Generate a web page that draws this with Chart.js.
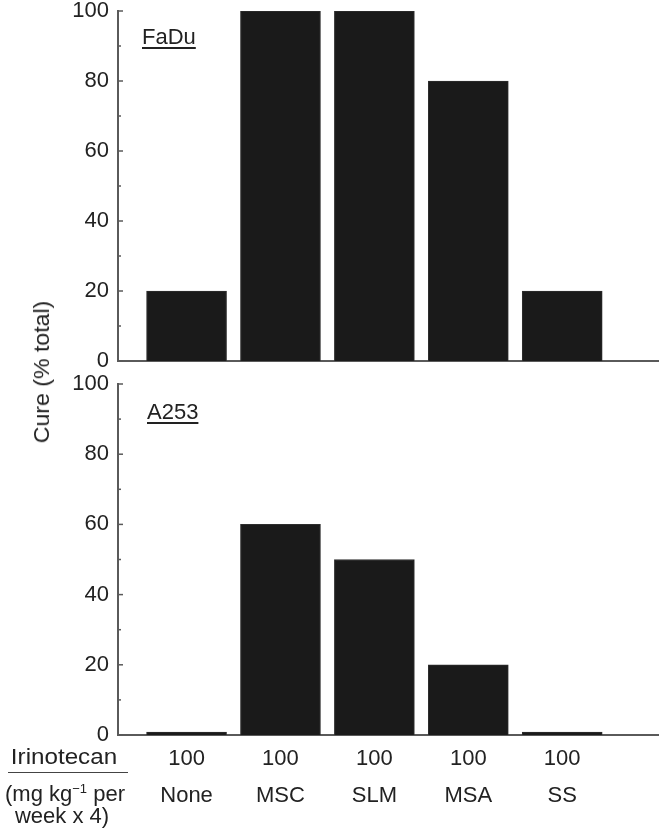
<!DOCTYPE html>
<html>
<head>
<meta charset="utf-8">
<script src="https://cdn.jsdelivr.net/npm/chart.js@4/dist/chart.umd.min.js"></script>
<style>
  html, body { margin: 0; padding: 0; background: #fff; }
  body { width: 660px; height: 835px; position: relative; overflow: hidden;
         font-family: "Liberation Sans", Arial, sans-serif; color: #222; }
  canvas { position: absolute; left: 0; }
  .t { position: absolute; font-size: 22px; line-height: 22px; white-space: nowrap; color: #222; }
  .u { text-decoration: underline; text-underline-offset: 3px; text-decoration-thickness: 1.5px; }
  sup { font-size: 13px; line-height: 0; vertical-align: 0; position: relative; top: -8px; }
</style>
</head>
<body>
<canvas id="c1" width="660" height="375" style="top:0"></canvas>
<canvas id="c2" width="660" height="463" style="top:372px"></canvas>

<div class="t u" style="left:142px; top:26px;">FaDu</div>
<div class="t u" style="left:147px; top:401px;">A253</div>
<div class="t" style="left:42px; top:372px; transform: translate(-50%,-50%) rotate(-90deg) scaleX(1.05);">Cure (% total)</div>

<div class="t" style="left:0; width:128px; text-align:center; top:746px; transform: scaleX(1.1);">Irinotecan</div>
<div style="position:absolute; left:8px; width:120px; top:772px; height:0; border-top:1.5px solid #444;"></div>
<div class="t" style="left:0; width:130px; text-align:center; top:783px;">(mg kg<sup>&minus;1</sup> per</div>
<div class="t" style="left:0; width:124px; text-align:center; top:805px;">week x 4)</div>

<script>
const categories = ['None', 'MSC', 'SLM', 'MSA', 'SS'];
const irinotecanDose = ['100', '100', '100', '100', '100'];
const faduCure = [20, 100, 100, 80, 20];
const a253Cure = [0, 60, 50, 20, 0];
const yTickValues = [0, 10, 20, 30, 40, 50, 60, 70, 80, 90, 100];

Chart.defaults.font.family = '"Liberation Sans", Arial, sans-serif';
Chart.defaults.color = '#222';

const AXIS = '#5a5a5a';

const inwardTicks = {
  id: 'inwardTicks',
  afterDraw(chart) {
    const s = chart.scales.y;
    const ctx = chart.ctx;
    ctx.save();
    ctx.strokeStyle = AXIS;
    ctx.lineWidth = 1.5;
    yTickValues.forEach(v => {
      const y = s.getPixelForValue(v);
      const len = v % 20 === 0 ? 5 : 3;
      ctx.beginPath();
      ctx.moveTo(chart.chartArea.left, y);
      ctx.lineTo(chart.chartArea.left + len, y);
      ctx.stroke();
    });
    ctx.restore();
  }
};

function makeChart(id, values, showX, padTop, xHeight) {
  return new Chart(document.getElementById(id), {
    type: 'bar',
    data: {
      datasets: [{
        data: values.map((v, i) => ({ x: i + 1, y: v })),
        backgroundColor: '#1a1a1a',
        borderColor: '#2e2e2e',
        borderWidth: 1,
        borderSkipped: 'start',
        barThickness: 80,
        minBarLength: 3
      }]
    },
    options: {
      responsive: false,
      animation: false,
      layout: { padding: { top: padTop, right: 2, left: 0, bottom: 0 } },
      plugins: { legend: { display: false }, tooltip: { enabled: false } },
      scales: {
        x: {
          type: 'linear',
          offset: false,
          min: 0.27,
          max: 6.02,
          afterBuildTicks: s => { s.ticks = categories.map((c, i) => ({ value: i + 1 })); },
          afterFit: s => { s.height = xHeight; },
          grid: { display: false, offset: false, drawTicks: false },
          border: { display: true, color: AXIS, width: 2 },
          ticks: {
            display: showX,
            autoSkip: false,
            maxRotation: 0,
            padding: 5,
            color: '#222',
            font: { size: 22, lineHeight: '37px' },
            callback: v => [irinotecanDose[v - 1], categories[v - 1]]
          }
        },
        y: {
          min: 0,
          max: 100,
          afterBuildTicks: s => { s.ticks = yTickValues.map(v => ({ value: v })); },
          afterFit: s => { s.width = 118; },
          grid: { display: false, drawTicks: false },
          border: { display: true, color: AXIS, width: 2 },
          ticks: {
            autoSkip: false,
            padding: 9,
            color: '#222',
            font: { size: 22, lineHeight: '2px' },
            callback: v => (v % 20 === 0 ? String(v) : '')
          }
        }
      }
    },
    plugins: [inwardTicks]
  });
}

makeChart('c1', faduCure, false, 11, 14);
makeChart('c2', a253Cure, true, 12, 100);
</script>
</body>
</html>
